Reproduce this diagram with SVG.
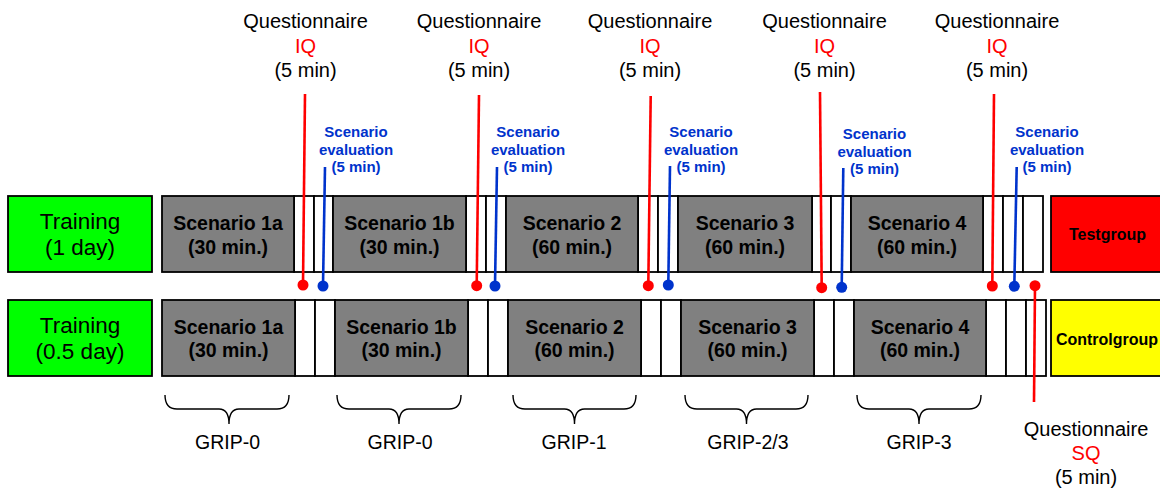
<svg xmlns="http://www.w3.org/2000/svg" width="1160" height="488" viewBox="0 0 1160 488">
<style>
text{font-family:"Liberation Sans",Arial,sans-serif;text-anchor:middle}
.box{stroke:#000;stroke-width:1.8}
.gray{fill:#808080}
.white{fill:#fff}
.sc{font-size:19.5px;font-weight:bold;fill:#000}
.tr{font-size:22.5px;fill:#000}
.grp{font-size:16px;font-weight:bold;fill:#000}
.q{font-size:20px;fill:#000}
.qr{font-size:20px;fill:#ff0000}
.ev{font-size:15px;font-weight:bold;fill:#0033cc}
.grip{font-size:19.5px;fill:#000}
.rl{stroke:#ff0000;stroke-width:2.6;fill:none}
.bl{stroke:#0033cc;stroke-width:2.6;fill:none}
.rd{fill:#ff0000}
.bd{fill:#0033cc}
.brace{stroke:#000;stroke-width:1.4;fill:none}
</style>
<rect width="1160" height="488" fill="#fff"/>

<g id="training-1day">
<rect class="box" x="8" y="196" width="144" height="76" fill="#00ff00"/>
<text class="tr" x="80" y="229">Training</text>
<text class="tr" x="80" y="255">(1 day)</text>
</g>
<g id="training-05day">
<rect class="box" x="8" y="300" width="144" height="76" fill="#00ff00"/>
<text class="tr" x="80" y="333">Training</text>
<text class="tr" x="80" y="359">(0.5 day)</text>
</g>

<g id="top-row">
<rect class="box white" x="294" y="196" width="20" height="76"/>
<rect class="box white" x="314" y="196" width="19" height="76"/>
<rect class="box white" x="466" y="196" width="20" height="76"/>
<rect class="box white" x="486" y="196" width="20" height="76"/>
<rect class="box white" x="638" y="196" width="20" height="76"/>
<rect class="box white" x="658" y="196" width="20" height="76"/>
<rect class="box white" x="812" y="196" width="19" height="76"/>
<rect class="box white" x="831" y="196" width="20" height="76"/>
<rect class="box white" x="983" y="196" width="20" height="76"/>
<rect class="box white" x="1003" y="196" width="20" height="76"/>
<rect class="box white" x="1023" y="196" width="20" height="76"/>
</g>
<g id="top-s1a"><rect class="box gray" x="162" y="196" width="132" height="76"/><text class="sc" x="228" y="230">Scenario 1a</text><text class="sc" x="228" y="254">(30 min.)</text></g>
<g id="top-s1b"><rect class="box gray" x="333" y="196" width="133" height="76"/><text class="sc" x="399.5" y="230">Scenario 1b</text><text class="sc" x="399.5" y="254">(30 min.)</text></g>
<g id="top-s2"><rect class="box gray" x="506" y="196" width="132" height="76"/><text class="sc" x="572" y="230">Scenario 2</text><text class="sc" x="572" y="254">(60 min.)</text></g>
<g id="top-s3"><rect class="box gray" x="678" y="196" width="134" height="76"/><text class="sc" x="745" y="230">Scenario 3</text><text class="sc" x="745" y="254">(60 min.)</text></g>
<g id="top-s4"><rect class="box gray" x="851" y="196" width="132" height="76"/><text class="sc" x="917" y="230">Scenario 4</text><text class="sc" x="917" y="254">(60 min.)</text></g>
<g id="testgroup"><rect class="box" x="1051" y="196" width="120" height="76" fill="#ff0000"/><text class="grp" x="1107.5" y="240">Testgroup</text></g>

<g id="bottom-row">
<rect class="box white" x="295" y="300" width="20" height="76"/>
<rect class="box white" x="315" y="300" width="20" height="76"/>
<rect class="box white" x="468" y="300" width="20" height="76"/>
<rect class="box white" x="488" y="300" width="20" height="76"/>
<rect class="box white" x="641" y="300" width="20" height="76"/>
<rect class="box white" x="661" y="300" width="20" height="76"/>
<rect class="box white" x="814" y="300" width="20" height="76"/>
<rect class="box white" x="834" y="300" width="20" height="76"/>
<rect class="box white" x="986" y="300" width="20" height="76"/>
<rect class="box white" x="1006" y="300" width="20" height="76"/>
<rect class="box white" x="1026" y="300" width="20" height="76"/>
</g>
<g id="bot-s1a"><rect class="box gray" x="162" y="300" width="133" height="76"/><text class="sc" x="228.5" y="334">Scenario 1a</text><text class="sc" x="228.5" y="357">(30 min.)</text></g>
<g id="bot-s1b"><rect class="box gray" x="335" y="300" width="133" height="76"/><text class="sc" x="401.5" y="334">Scenario 1b</text><text class="sc" x="401.5" y="357">(30 min.)</text></g>
<g id="bot-s2"><rect class="box gray" x="508" y="300" width="133" height="76"/><text class="sc" x="574.5" y="334">Scenario 2</text><text class="sc" x="574.5" y="357">(60 min.)</text></g>
<g id="bot-s3"><rect class="box gray" x="681" y="300" width="133" height="76"/><text class="sc" x="747.5" y="334">Scenario 3</text><text class="sc" x="747.5" y="357">(60 min.)</text></g>
<g id="bot-s4"><rect class="box gray" x="854" y="300" width="132" height="76"/><text class="sc" x="920" y="334">Scenario 4</text><text class="sc" x="920" y="357">(60 min.)</text></g>
<g id="controlgroup"><rect class="box" x="1051" y="300" width="120" height="76" fill="#ffff00"/><text class="grp" x="1107" y="345">Controlgroup</text></g>

<g id="iq-labels">
<g id="iq1"><text class="q" x="305.5" y="28">Questionnaire</text><text class="qr" x="305.5" y="52.5">IQ</text><text class="q" x="305.5" y="77">(5 min)</text></g>
<g id="iq2"><text class="q" x="479" y="28">Questionnaire</text><text class="qr" x="479" y="52.5">IQ</text><text class="q" x="479" y="77">(5 min)</text></g>
<g id="iq3"><text class="q" x="650" y="28">Questionnaire</text><text class="qr" x="650" y="52.5">IQ</text><text class="q" x="650" y="77">(5 min)</text></g>
<g id="iq4"><text class="q" x="824.5" y="28">Questionnaire</text><text class="qr" x="824.5" y="52.5">IQ</text><text class="q" x="824.5" y="77">(5 min)</text></g>
<g id="iq5"><text class="q" x="997" y="28">Questionnaire</text><text class="qr" x="997" y="52.5">IQ</text><text class="q" x="997" y="77">(5 min)</text></g>
</g>
<g id="sq-label"><text class="q" x="1086" y="436">Questionnaire</text><text class="qr" x="1086" y="460">SQ</text><text class="q" x="1086" y="484">(5 min)</text></g>

<g id="eval-labels">
<g id="ev1"><text class="ev" x="356" y="137">Scenario</text><text class="ev" x="356" y="155">evaluation</text><text class="ev" x="356" y="172">(5 min)</text></g>
<g id="ev2"><text class="ev" x="528" y="137">Scenario</text><text class="ev" x="528" y="155">evaluation</text><text class="ev" x="528" y="172">(5 min)</text></g>
<g id="ev3"><text class="ev" x="701" y="137">Scenario</text><text class="ev" x="701" y="155">evaluation</text><text class="ev" x="701" y="172">(5 min)</text></g>
<g id="ev4"><text class="ev" x="874.5" y="138.5">Scenario</text><text class="ev" x="874.5" y="156.5">evaluation</text><text class="ev" x="874.5" y="173.5">(5 min)</text></g>
<g id="ev5"><text class="ev" x="1047" y="137">Scenario</text><text class="ev" x="1047" y="155">evaluation</text><text class="ev" x="1047" y="172">(5 min)</text></g>
</g>

<g id="connectors">
<line class="rl" x1="305" y1="94" x2="303" y2="285"/><circle class="rd" cx="303" cy="285" r="5.5"/>
<line class="rl" x1="479" y1="95" x2="476.7" y2="285.7"/><circle class="rd" cx="476.7" cy="285.7" r="5.5"/>
<line class="rl" x1="650.7" y1="96" x2="648.3" y2="285.7"/><circle class="rd" cx="648.3" cy="285.7" r="5.5"/>
<line class="rl" x1="820" y1="92" x2="821.7" y2="287.7"/><circle class="rd" cx="821.7" cy="287.7" r="5.5"/>
<line class="rl" x1="994" y1="94" x2="992.3" y2="286"/><circle class="rd" cx="992.3" cy="286" r="5.5"/>
<line class="rl" x1="1035" y1="285.7" x2="1034" y2="402"/><circle class="rd" cx="1035" cy="285.7" r="5.5"/>
<line class="bl" x1="325" y1="167" x2="323" y2="286"/><circle class="bd" cx="323" cy="286" r="5.5"/>
<line class="bl" x1="497" y1="167" x2="495" y2="286"/><circle class="bd" cx="495" cy="286" r="5.5"/>
<line class="bl" x1="670" y1="166" x2="668.3" y2="285"/><circle class="bd" cx="668.3" cy="285" r="5.5"/>
<line class="bl" x1="843.3" y1="168" x2="841.7" y2="287.3"/><circle class="bd" cx="841.7" cy="287.3" r="5.5"/>
<line class="bl" x1="1016.7" y1="167" x2="1014.3" y2="286.3"/><circle class="bd" cx="1014.3" cy="286.3" r="5.5"/>
</g>

<g id="grip-0a"><path class="brace" d="M165,395 Q165,409 177,409 L219,409 Q229,409 229,424 Q229,409 239,409 L277,409 Q289,409 289,395"/><text class="grip" x="227.5" y="449">GRIP-0</text></g>
<g id="grip-0b"><path class="brace" d="M337,395 Q337,409 349,409 L389,409 Q399,409 399,424 Q399,409 409,409 L449,409 Q461,409 461,395"/><text class="grip" x="400" y="449">GRIP-0</text></g>
<g id="grip-1"><path class="brace" d="M513,395 Q513,409 525,409 L564.5,409 Q574.5,409 574.5,424 Q574.5,409 584.5,409 L624,409 Q636,409 636,395"/><text class="grip" x="574" y="449">GRIP-1</text></g>
<g id="grip-23"><path class="brace" d="M685,395 Q685,409 697,409 L736.5,409 Q746.5,409 746.5,424 Q746.5,409 756.5,409 L796,409 Q808,409 808,395"/><text class="grip" x="748" y="449">GRIP-2/3</text></g>
<g id="grip-3"><path class="brace" d="M857,395 Q857,409 869,409 L909,409 Q919,409 919,424 Q919,409 929,409 L969,409 Q981,409 981,395"/><text class="grip" x="919" y="449">GRIP-3</text></g>
</svg>
